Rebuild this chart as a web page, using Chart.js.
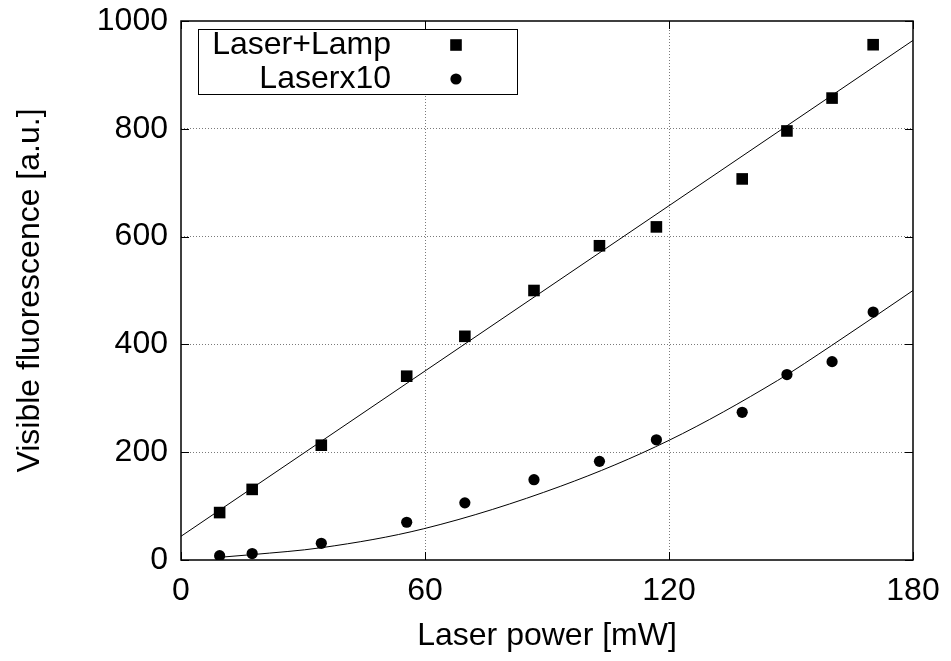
<!DOCTYPE html>
<html>
<head>
<meta charset="utf-8">
<title>Visible fluorescence vs laser power</title>
<script src="https://cdn.jsdelivr.net/npm/chart.js@4/dist/chart.umd.min.js"></script>
<style>
  html, body { margin: 0; padding: 0; background: #fff; }
  #wrap { width: 951px; height: 661px; }
</style>
</head>
<body>
<div id="wrap"><canvas id="c" width="951" height="661"></canvas></div>
<script>
// Measured points (laser power in mW, fluorescence in a.u.)
const powerMw   = [9.5, 17.5, 34.5, 55.5, 69.8, 86.8, 102.9, 116.9, 138, 149, 160.1, 170.2];
const laserLamp = [88, 131, 213, 341, 415, 500, 583, 618, 707, 796, 857, 956];
const laserX10  = [8, 12, 31, 70, 106, 149, 183, 223, 274, 344, 368, 460];

// Fitted curves
const fitLampPower = [0, 90, 180];
const fitLampValue = [44, 504, 964];
const fitX10Power  = [9.5, 17.5, 34.7, 59.7, 93.4, 120, 146.7, 160, 180];
const fitX10Value  = [5, 10, 23, 58, 137, 222, 333, 398, 500];

// Axis ticks
const xTickValues = [0, 60, 120, 180];
const yTickValues = [0, 200, 400, 600, 800, 1000];

const seriesLabels = ['Laser+Lamp', 'Laserx10'];
const xTitle = 'Laser power [mW]';
const yTitle = 'Visible fluorescence [a.u.]';

const FONT = "'Liberation Sans', Arial, Helvetica, sans-serif";
const FONT_SIZE = 32;
const SQUARE_R = 8.2;   // rect point radius -> ~11.6 px side
const CIRCLE_R = 5.6;

const toXY = (xs, ys) => xs.map((x, i) => ({ x: x, y: ys[i] }));

// Inward tick marks on all four sides, solid frame around the plot area
const frameAndTicks = {
  id: 'frameAndTicks',
  afterDatasetsDraw(chart) {
    const { ctx, chartArea: a, scales } = chart;
    const len = 8;
    ctx.save();
    ctx.strokeStyle = '#000';
    ctx.lineWidth = 1;
    ctx.beginPath();
    xTickValues.forEach(v => {
      const px = Math.round(scales.x.getPixelForValue(v)) + 0.5;
      ctx.moveTo(px, a.bottom); ctx.lineTo(px, a.bottom - len);
      ctx.moveTo(px, a.top);    ctx.lineTo(px, a.top + len);
    });
    yTickValues.forEach(v => {
      const py = Math.round(scales.y.getPixelForValue(v)) + 0.5;
      ctx.moveTo(a.left, py);  ctx.lineTo(a.left + len, py);
      ctx.moveTo(a.right, py); ctx.lineTo(a.right - len, py);
    });
    ctx.stroke();
    ctx.lineWidth = 1.5;
    ctx.strokeRect(a.left, a.top, a.right - a.left, a.bottom - a.top);
    ctx.restore();
  }
};

// Boxed key: right-aligned label followed by the series marker
const keyBox = {
  id: 'keyBox',
  afterDraw(chart) {
    const { ctx, chartArea: a } = chart;
    const x0 = a.left + 17.5, y0 = a.top + 8.5, w = 319, h = 65;
    const textRight = a.left + 210;
    const markX = a.left + 275;
    const rows = [a.top + 24, a.top + 58];
    ctx.save();
    ctx.fillStyle = '#fff';
    ctx.fillRect(x0, y0, w, h);
    ctx.strokeStyle = '#000';
    ctx.lineWidth = 1;
    ctx.strokeRect(x0, y0, w, h);
    ctx.font = FONT_SIZE + 'px ' + FONT;
    ctx.textAlign = 'right';
    ctx.textBaseline = 'middle';
    ctx.fillStyle = '#000';
    const pts = chart.data.datasets.filter(d => !d.showLine);
    pts.forEach((d, i) => {
      ctx.fillText(d.label, textRight, rows[i]);
      if (d.pointStyle === 'rect') {
        const half = SQUARE_R * Math.SQRT1_2;
        ctx.fillRect(markX - half, rows[i] - half, half * 2, half * 2);
      } else {
        ctx.beginPath();
        ctx.arc(markX, rows[i], CIRCLE_R, 0, Math.PI * 2);
        ctx.fill();
      }
    });
    ctx.restore();
  }
};

const hideEdge = (scaleMin, scaleMax) => (c) => {
  const v = c.tick && c.tick.value;
  return (v === scaleMin || v === scaleMax) ? 'rgba(0,0,0,0)' : '#7a7a7a';
};

new Chart(document.getElementById('c'), {
  type: 'scatter',
  data: {
    datasets: [
      {
        label: 'fit ' + seriesLabels[0],
        data: toXY(fitLampPower, fitLampValue),
        showLine: true, borderColor: '#000', borderWidth: 1,
        pointRadius: 0, tension: 0, order: 3
      },
      {
        label: 'fit ' + seriesLabels[1],
        data: toXY(fitX10Power, fitX10Value),
        showLine: true, borderColor: '#000', borderWidth: 1,
        pointRadius: 0, cubicInterpolationMode: 'monotone', order: 3
      },
      {
        label: seriesLabels[0],
        data: toXY(powerMw, laserLamp),
        showLine: false, pointStyle: 'rect', pointRadius: SQUARE_R,
        backgroundColor: '#000', borderColor: '#000', borderWidth: 0, order: 1
      },
      {
        label: seriesLabels[1],
        data: toXY(powerMw, laserX10),
        showLine: false, pointStyle: 'circle', pointRadius: CIRCLE_R,
        backgroundColor: '#000', borderColor: '#000', borderWidth: 0, order: 1
      }
    ]
  },
  options: {
    responsive: false,
    animation: false,
    events: [],
    layout: { padding: { top: 21, right: 38, left: 0, bottom: 0 } },
    plugins: { legend: { display: false }, tooltip: { enabled: false } },
    scales: {
      x: {
        type: 'linear', min: 0, max: 180,
        afterBuildTicks: s => { s.ticks = xTickValues.map(v => ({ value: v })); },
        afterFit: s => { s.height = 101; s.paddingLeft = 0; s.paddingRight = 0; },
        ticks: { color: '#000', padding: 12, font: { family: FONT, size: FONT_SIZE }, maxRotation: 0, callback: v => String(v) },
        grid: { color: hideEdge(0, 180), lineWidth: 1, drawTicks: false },
        border: { display: false, dash: [1, 2] },
        title: { display: true, text: xTitle, color: '#000', font: { family: FONT, size: FONT_SIZE }, padding: { top: 0, bottom: 6 } }
      },
      y: {
        type: 'linear', min: 0, max: 1000,
        afterBuildTicks: s => { s.ticks = yTickValues.map(v => ({ value: v })); },
        afterFit: s => { s.width = 181; s.paddingTop = 0; s.paddingBottom = 0; },
        ticks: { color: '#000', padding: 13, font: { family: FONT, size: FONT_SIZE }, callback: v => String(v) },
        grid: { color: hideEdge(0, 1000), lineWidth: 1, drawTicks: false },
        border: { display: false, dash: [1, 2] },
        title: { display: true, text: yTitle, color: '#000', font: { family: FONT, size: FONT_SIZE }, padding: { top: 11, bottom: 0 } }
      }
    }
  },
  plugins: [frameAndTicks, keyBox]
});
</script>
</body>
</html>
